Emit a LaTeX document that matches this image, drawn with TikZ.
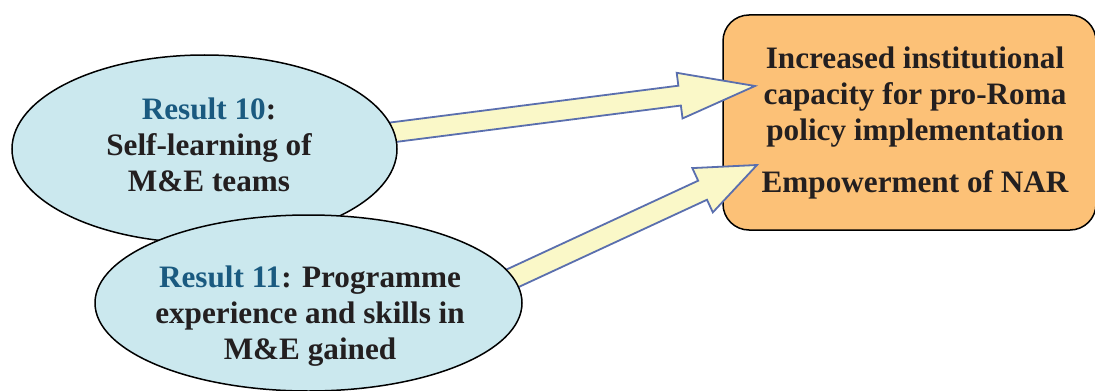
\documentclass[tikz,border=0pt]{standalone}
\usepackage{fontspec}
\setmainfont{Liberation Serif}
\usetikzlibrary{shapes.geometric,calc}
\definecolor{ellfill}{HTML}{CBE8EE}
\definecolor{boxfill}{HTML}{FCC177}
\definecolor{arrfill}{HTML}{FAF8C8}
\definecolor{arrline}{HTML}{5A6FAE}
\definecolor{resblue}{HTML}{1A5A80}
\definecolor{txt}{HTML}{231F20}
\newcommand\blockarrow[5]{% tail, tip, shaft half width, head half width, head length
  \path ($(#2)!#5!(#1)$) coordinate (tmpB);
  \draw[blockarr] ($(#1)!#3!90:(#2)$) -- ($(tmpB)!#3!90:(#2)$) -- ($(tmpB)!#4!90:(#2)$)
    -- (#2) -- ($(tmpB)!#4!-90:(#2)$) -- ($(tmpB)!#3!-90:(#2)$) -- ($(#1)!#3!-90:(#2)$) -- cycle;
}
\tikzset{
  resell/.style={ellipse, draw=black, line width=0.75pt, fill=ellfill, inner sep=0pt},
  outbox/.style={draw=black, line width=0.75pt, fill=boxfill, rounded corners=13pt, inner sep=0pt},
  blockarr/.style={draw=arrline, line width=0.9pt, fill=arrfill, line join=miter},
  lbl/.style={font=\fontsize{15.6}{18}\selectfont\bfseries, text=txt, align=center, inner sep=0pt},
}
\begin{document}
\begin{tikzpicture}[x=0.5pt,y=-0.5pt]
\useasboundingbox (0,0) rectangle (1095,390);
\fill[white] (0,0) rectangle (1095,390);
% outcome box
\node[outbox, minimum width=186.5pt, minimum height=107.5pt] (out) at (909.5,122.5) {};
\node[lbl] (outtxt) at (915,123) {Increased institutional\\capacity for pro-Roma\\policy implementation\\[8pt]Empowerment of NAR};
% arrow end points
\coordinate (tail1) at (340,139);
\coordinate (tip1) at (755,86);
\coordinate (tail2) at (470,298);
\coordinate (tip2) at (757,165);
\blockarrow{tail1}{tip1}{5pt}{11.5pt}{38pt}
\blockarrow{tail2}{tip2}{5.25pt}{12.2pt}{30pt}
% result ellipses
\node[resell, minimum width=192.5pt, minimum height=94pt] (r10) at (204.5,149) {};
\node[lbl] (r10txt) at (209,145) {\textcolor{resblue}{Result 10}:\\Self-learning of\\M\&E teams};
\node[resell, minimum width=213.5pt, minimum height=88pt] (r11) at (308.5,303) {};
\node[lbl] (r11txt) at (310,316) {\textcolor{resblue}{Result 11}: Programme\\experience and skills in\\M\&E gained};
\end{tikzpicture}
\end{document}
